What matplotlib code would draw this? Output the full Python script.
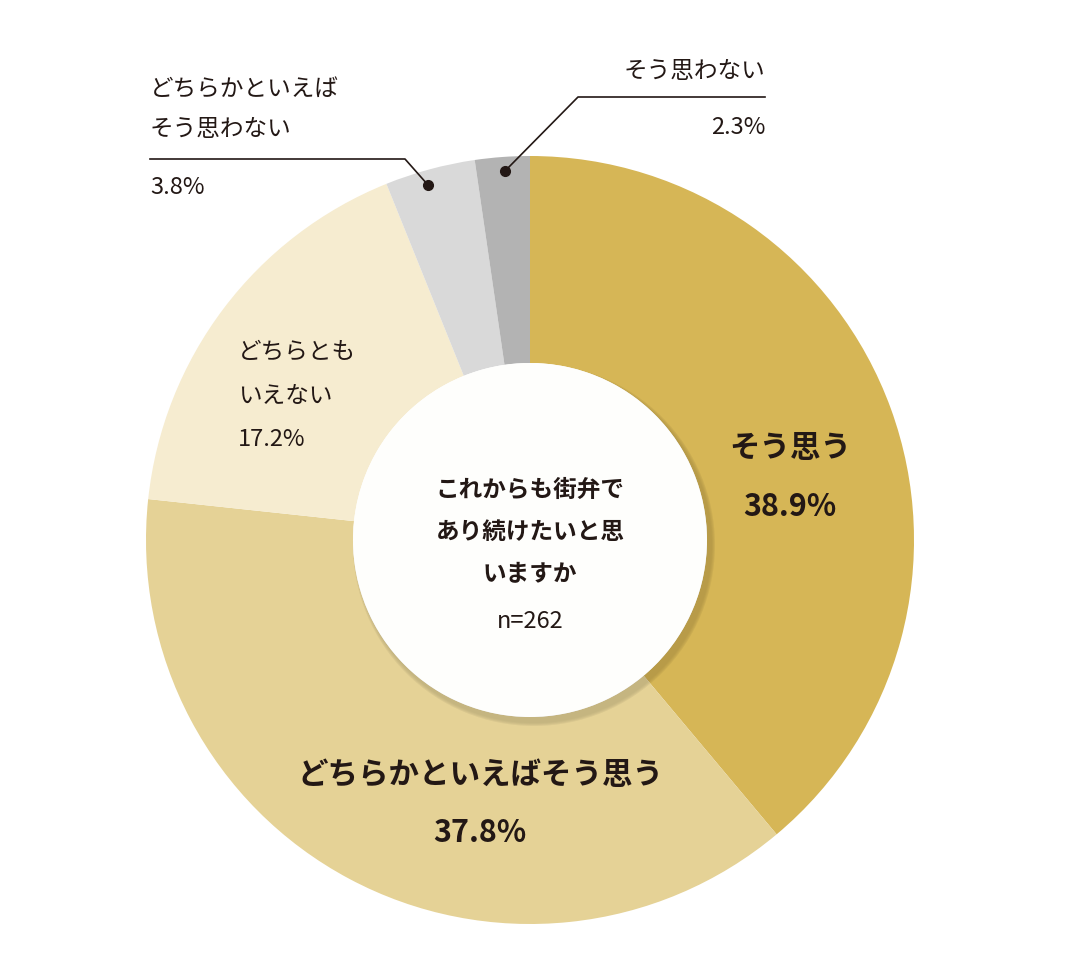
import matplotlib
matplotlib.use("Agg")
import matplotlib.pyplot as plt
from matplotlib.patches import Circle

plt.rcParams["font.family"] = "Noto Sans CJK JP"

categories = ["そう思う", "どちらかといえばそう思う", "どちらともいえない", "どちらかといえばそう思わない", "そう思わない"]
values = [38.9, 37.8, 17.2, 3.8, 2.3]
colors = ["#D6B656", "#E5D296", "#F6ECD0", "#D9D9D9", "#B3B3B3"]

fig = plt.figure(figsize=(10.9, 9.78), dpi=100)
ax = fig.add_axes([0, 0, 1, 1])
ax.set_xlim(0, 1090)
ax.set_ylim(978, 0)
ax.set_aspect("equal")
ax.axis("off")

cx, cy, R, r = 530, 541, 384, 177
# y axis inverted: counterclock=True in data appears clockwise on screen; start at top (angle -90 in data)
ax.pie(values, colors=colors, startangle=-90, counterclock=True, center=(cx, cy), radius=R,
       wedgeprops=dict(width=R - r, linewidth=0), frame=True)
ax.set_xlim(0, 1090)
ax.set_ylim(978, 0)
ax.axis("off")
for i, a in enumerate([0.05, 0.04, 0.03, 0.02]):
    ax.add_patch(Circle((cx + 4, cy + 5), r + 4 - i, color="black", alpha=a, lw=0, zorder=3))
ax.add_patch(Circle((cx, cy), r, color="#FEFEFC", lw=0, zorder=4))

tc = "#231815"
ax.text(790, 448, "そう思う", ha="center", va="center", fontsize=22, fontweight="bold", color=tc, zorder=5)
ax.text(790, 507, f"{values[0]}%", ha="center", va="center", fontsize=22, fontweight="bold", color=tc, zorder=5)
ax.text(480, 775, "どちらかといえばそう思う", ha="center", va="center", fontsize=22, fontweight="bold", color=tc, zorder=5)
ax.text(480, 833, f"{values[1]}%", ha="center", va="center", fontsize=22, fontweight="bold", color=tc, zorder=5)
for t, y in [("どちらとも", 352), ("いえない", 396), (f"{values[2]}%", 440)]:
    ax.text(238, y, t, ha="left", va="center", fontsize=17, color=tc, zorder=5)
for t, y in [("これからも街弁で", 490), ("あり続けたいと思", 532), ("いますか", 574)]:
    ax.text(cx, y, t, ha="center", va="center", fontsize=17, fontweight="bold", color=tc, zorder=5)
ax.text(cx, 622, "n=262", ha="center", va="center", fontsize=17, color=tc, zorder=5)

# top-left callout
ax.text(150, 90, "どちらかといえば", ha="left", va="center", fontsize=17, color=tc)
ax.text(150, 130, "そう思わない", ha="left", va="center", fontsize=17, color=tc)
ax.text(150, 188, f"{values[3]}%", ha="left", va="center", fontsize=17, color=tc)
ax.plot([150, 405, 428], [160, 160, 186], color=tc, lw=1.2, zorder=6)
ax.plot([428], [186], "o", color=tc, ms=7, zorder=6)
# top-right callout
ax.text(765, 72, "そう思わない", ha="right", va="center", fontsize=17, color=tc)
ax.text(765, 128, f"{values[4]}%", ha="right", va="center", fontsize=17, color=tc)
ax.plot([765, 578, 505], [98, 98, 172], color=tc, lw=1.2, zorder=6)
ax.plot([505], [172], "o", color=tc, ms=7, zorder=6)

fig.savefig("out.png", dpi=100, facecolor="white")
